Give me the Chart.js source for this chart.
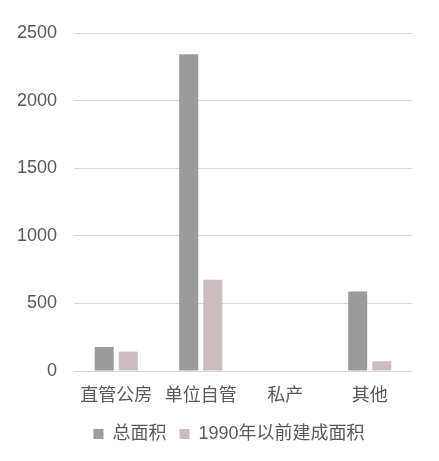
<!DOCTYPE html>
<html>
<head>
<meta charset="utf-8">
<script src="https://cdn.jsdelivr.net/npm/chart.js@4"></script>
<style>
  html, body { margin: 0; padding: 0; background: #fff; }
  #wrap { width: 439px; height: 461px; position: relative; }
</style>
</head>
<body>
<div id="wrap"><canvas id="area-chart"></canvas></div>
<script>
const categories = ["直管公房", "单位自管", "私产", "其他"];
const totalArea = [178, 2342, 0, 588];
const pre1990Area = [143, 675, 0, 72];
const seriesNames = ["总面积", "1990年以前建成面积"];

const FONT = '"Liberation Sans", "Noto Sans CJK SC", sans-serif';
const TEXT = "#595959";

// legend in the original sits a bit right of centre
const shiftLegend = {
  id: "shiftLegend",
  afterLayout(chart) {
    chart.legend.left += 23;
    chart.legend.right += 23;
  },
};

const ctx = document.getElementById("area-chart");
new Chart(ctx, {
  type: "bar",
  data: {
    labels: categories,
    datasets: [
      {
        label: seriesNames[0],
        data: totalArea,
        backgroundColor: "#9b9b9b",
        categoryPercentage: 0.57,
        barPercentage: 0.79,
      },
      {
        label: seriesNames[1],
        data: pre1990Area,
        backgroundColor: "#cbbdbd",
        categoryPercentage: 0.57,
        barPercentage: 0.79,
      },
    ],
  },
  options: {
    responsive: true,
    maintainAspectRatio: false,
    animation: false,
    layout: {
      padding: { top: 33, right: 27, bottom: 8, left: 0 },
    },
    scales: {
      x: {
        afterFit: (scale) => {
          scale.height = 41;
        },
        grid: { display: false, drawTicks: false },
        border: { display: false },
        ticks: {
          color: TEXT,
          padding: 14,
          font: { family: FONT, size: 18 },
        },
      },
      y: {
        min: 0,
        max: 2500,
        afterFit: (scale) => {
          scale.width = 74; // plot starts at x=74
        },
        grid: { color: "#d9d9d9", lineWidth: 1, drawTicks: false },
        border: { display: false },
        ticks: {
          stepSize: 500,
          color: TEXT,
          padding: 17,
          font: { family: FONT, size: 18 },
          callback: (value) => String(value),
        },
      },
    },
    plugins: {
      legend: {
        display: true,
        position: "bottom",
        labels: {
          color: TEXT,
          boxWidth: 10,
          boxHeight: 10,
          padding: 13,
          font: { family: FONT, size: 18 },
        },
      },
      tooltip: { enabled: false },
    },
  },
  plugins: [shiftLegend],
});
</script>
</body>
</html>
